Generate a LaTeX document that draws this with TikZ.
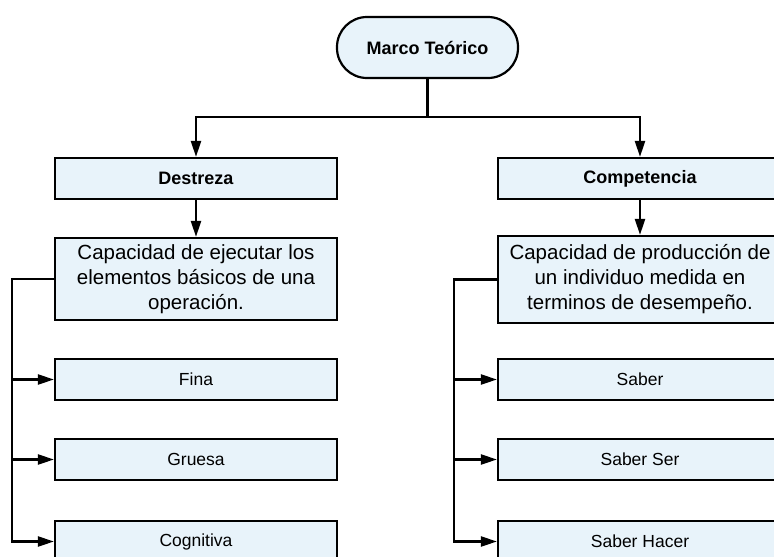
\documentclass[tikz,border=0pt]{standalone}
\usepackage{fontspec}
\setmainfont{Liberation Sans}
\usetikzlibrary{arrows.meta}
\definecolor{boxblue}{RGB}{232,243,250}
\begin{document}
\begin{tikzpicture}[
        x=1pt, y=-1pt,
        line width=2.2pt,
        >={Triangle[length=16pt,width=10pt]},
        font=\fontsize{17.5}{21}\selectfont
    ]
    \tikzset{
        box/.style = {rectangle, draw=black, align=center, fill=boxblue, minimum width=282pt, minimum height=41pt, inner sep=0pt},
        headbox/.style = {box, font=\fontsize{18}{21}\selectfont\bfseries},
        descbox/.style = {box, font=\fontsize{20.5}{25}\selectfont},
        startnode/.style = {rectangle, rounded corners=30pt, draw=black, align=center, fill=boxblue, minimum width=181pt, minimum height=61pt, font=\fontsize{18}{21}\selectfont\bfseries},
    }
    \useasboundingbox (0,0) rectangle (774,557);
    \clip (0,0) rectangle (774,557);
    \node[startnode] at (427.5,47.5) (marco) {Marco Teórico};
    \coordinate (split) at (427.5,117);
    \node[headbox] at (196,178.5) (destreza) {Destreza};
    \node[headbox,minimum width=284pt] at (640,178.5) (competencia) {Competencia};
    \node[descbox,minimum height=82pt] at (196,279) (capdes) {Capacidad de ejecutar los\\elementos básicos de una\\operación.};
    \node[descbox,minimum width=284pt,minimum height=87pt] at (640,279.5) (capcomp) {Capacidad de producción de\\un individuo medida en\\terminos de desempeño.};
    \node[box] at (196,379.5) (fina) {Fina};
    \node[box] at (196,459.5) (gruesa) {Gruesa};
    \node[box] at (196,541.5) (cognitiva) {Cognitiva};
    \node[box,minimum width=284pt] at (640,379.5) (saber) {Saber};
    \node[box,minimum width=284pt] at (640,459.5) (saberser) {Saber Ser};
    \node[box,minimum width=284pt] at (640,541.5) (saberhacer) {Saber Hacer};
    \draw (marco) -- (split);
    \draw[->] (split) -| (destreza);
    \draw[->] (split) -| (competencia);
    \draw[->] (destreza) -- (capdes);
    \draw[->] (competencia) -- (capcomp);
    \draw[->] (capdes.west) -- ++(-42,0) |- (fina.west);
    \draw[->] (capdes.west) -- ++(-42,0) |- (gruesa.west);
    \draw[->] (capdes.west) -- ++(-42,0) |- (cognitiva.west);
    \draw[->] (capcomp.west) -- ++(-43,0) |- (saber.west);
    \draw[->] (capcomp.west) -- ++(-43,0) |- (saberser.west);
    \draw[->] (capcomp.west) -- ++(-43,0) |- (saberhacer.west);
\end{tikzpicture}
\end{document}
